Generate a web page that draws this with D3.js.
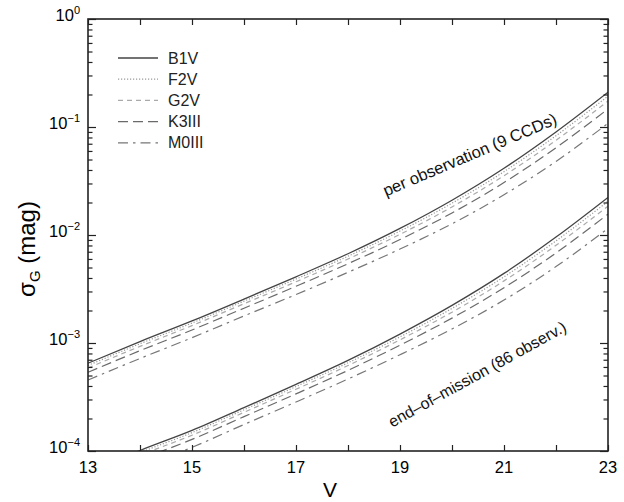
<!DOCTYPE html>
<html><head><meta charset="utf-8">
<script src="https://cdn.jsdelivr.net/npm/d3@7"></script>
<style>body{margin:0;background:#fff}svg{font-family:"Liberation Sans",Arial,Helvetica,sans-serif}</style>
</head><body><svg id="c" width="624" height="502"></svg>
<script>
// ---- data ----
const vMag = [13,14,15,16,17,18,19,20,21,22,23];
const seriesNames = ["B1V","F2V","G2V","K3III","M0III"];
// per observation (9 CCDs)
const b1vPer  = [6.5e-4,1.03e-3,1.6e-3,2.55e-3,4.1e-3,6.7e-3,0.0115,0.021,0.0415,0.090,0.21];
const f2vPer  = [6.2e-4,9.84e-4,1.53e-3,2.44e-3,3.91e-3,6.37e-3,0.01087,0.0197,0.0386,0.0831,0.193];
const g2vPer  = [5.88e-4,9.31e-4,1.45e-3,2.31e-3,3.69e-3,6.00e-3,0.01015,0.0182,0.0354,0.0754,0.174];
const k3iiiPer= [5.36e-4,8.49e-4,1.32e-3,2.10e-3,3.35e-3,5.42e-3,9.07e-3,0.0160,0.0306,0.0642,0.147];
const m0iiiPer= [4.54e-4,7.19e-4,1.12e-3,1.78e-3,2.81e-3,4.51e-3,7.41e-3,0.0127,0.0236,0.0480,0.108];
// end-of-mission (86 observ.)
const b1vEnd  = [6.3e-5,1.01e-4,1.55e-4,2.52e-4,4.14e-4,6.9e-4,1.21e-3,2.23e-3,4.41e-3,9.57e-3,0.0223];
const f2vEnd  = [6.0e-5,9.65e-5,1.48e-4,2.41e-4,3.95e-4,6.56e-4,1.14e-3,2.09e-3,4.10e-3,8.83e-3,0.0205];
const g2vEnd  = [5.7e-5,9.13e-5,1.40e-4,2.28e-4,3.73e-4,6.18e-4,1.07e-3,1.93e-3,3.76e-3,8.02e-3,0.0185];
const k3iiiEnd= [5.2e-5,8.32e-5,1.28e-4,2.08e-4,3.38e-4,5.58e-4,9.55e-4,1.70e-3,3.25e-3,6.82e-3,0.0156];
const m0iiiEnd= [4.4e-5,7.05e-5,1.08e-4,1.76e-4,2.84e-4,4.64e-4,7.79e-4,1.35e-3,2.50e-3,5.10e-3,0.0115];
const xTickLabels = [13,15,17,19,21,23];
const yTickExps = [0,-1,-2,-3,-4];

// ---- styles ----
const styles = {
  "B1V":  {stroke:"#444", dash:null, w:1.3},
  "F2V":  {stroke:"#999", dash:"1.2,1.8", w:1.2},
  "G2V":  {stroke:"#aaa", dash:"5,4", w:1.2},
  "K3III":{stroke:"#6a6a6a", dash:"10,5", w:1.2},
  "M0III":{stroke:"#777", dash:"10,5,2.5,5", w:1.2}
};
const perSets = [b1vPer,f2vPer,g2vPer,k3iiiPer,m0iiiPer];
const endSets = [b1vEnd,f2vEnd,g2vEnd,k3iiiEnd,m0iiiEnd];

const L=88, R=608, T=19, B=451;
const svg = d3.select("#c");
const x = d3.scaleLinear().domain([13,23]).range([L,R]);
const y = d3.scaleLog().domain([1e-4,1]).range([B,T]);

svg.append("clipPath").attr("id","pc").append("rect")
  .attr("x",L).attr("y",T).attr("width",R-L).attr("height",B-T);

const line = d3.line().x(d=>x(d[0])).y(d=>y(d[1])).curve(d3.curveMonotoneX);
const g = svg.append("g").attr("clip-path","url(#pc)");
[perSets,endSets].forEach(sets=>{
  sets.forEach((arr,i)=>{
    const s = styles[seriesNames[i]];
    g.append("path").datum(vMag.map((v,k)=>[v,arr[k]]))
      .attr("d",line).attr("fill","none")
      .attr("stroke",s.stroke).attr("stroke-width",s.w)
      .attr("stroke-dasharray",s.dash);
  });
});

// axes: ticks inward on all sides
const xAxisB = d3.axisBottom(x).tickValues(d3.range(13,24,1)).tickSize(-6).tickFormat("");
const xAxisT = d3.axisTop(x).tickValues(d3.range(13,24,1)).tickSize(-6).tickFormat("");
const minorY = [];
for (let e=-4;e<0;e++) for (let m=2;m<=9;m++) minorY.push(m*Math.pow(10,e));
const majorY = yTickExps.map(e=>Math.pow(10,e));
function yAx(gen, vals, size){ return gen(y).tickValues(vals).tickSize(size).tickFormat(""); }

function styleAxis(sel){ sel.select(".domain").remove(); sel.selectAll("line").attr("stroke","#222").attr("stroke-width",1.2); }
svg.append("g").attr("transform",`translate(0,${B})`).call(xAxisB).call(styleAxis);
svg.append("g").attr("transform",`translate(0,${T})`).call(xAxisT).call(styleAxis);
svg.append("g").attr("transform",`translate(${L},0)`).call(yAx(d3.axisLeft,majorY,-8)).call(styleAxis);
svg.append("g").attr("transform",`translate(${L},0)`).call(yAx(d3.axisLeft,minorY,-4.5)).call(styleAxis);
svg.append("g").attr("transform",`translate(${R},0)`).call(yAx(d3.axisRight,majorY,-8)).call(styleAxis);
svg.append("g").attr("transform",`translate(${R},0)`).call(yAx(d3.axisRight,minorY,-4.5)).call(styleAxis);

svg.append("rect").attr("x",L).attr("y",T).attr("width",R-L).attr("height",B-T)
  .attr("fill","none").attr("stroke","#222").attr("stroke-width",1.6);

// x tick labels
svg.append("g").selectAll("text").data(xTickLabels).join("text")
  .attr("x",d=>x(d)).attr("y",B+22).attr("text-anchor","middle")
  .attr("font-size",16.5).attr("fill","#000").text(d=>d);
// y tick labels
const yl = svg.append("g").selectAll("text").data(yTickExps).join("text")
  .attr("x",L-8).attr("y",d=>y(Math.pow(10,d))+2).attr("text-anchor","end")
  .attr("font-size",16.5).attr("fill","#000");
yl.append("tspan").text("10");
yl.append("tspan").attr("dy",-7).attr("font-size",11).text(d=>d===0?"0":"\u2212"+(-d));

// axis titles
svg.append("text").attr("x",330).attr("y",497).attr("text-anchor","middle")
  .attr("font-size",21).attr("fill","#000").text("V");
const yt = svg.append("text").attr("transform","translate(35,249) rotate(-90)")
  .attr("text-anchor","middle").attr("font-size",24).attr("fill","#000");
yt.append("tspan").text("\u03c3");
yt.append("tspan").attr("dy",5).attr("font-size",15).text("G");
yt.append("tspan").attr("dy",-5).text(" (mag)");

// legend
const lg = svg.append("g");
seriesNames.forEach((n,i)=>{
  const yy = 58 + i*21.2, s = styles[n];
  lg.append("line").attr("x1",118).attr("x2",158).attr("y1",yy).attr("y2",yy)
    .attr("stroke",s.stroke).attr("stroke-width",s.w).attr("stroke-dasharray",s.dash);
  lg.append("text").attr("x",168).attr("y",yy+5.5).attr("font-size",16).attr("fill","#222").text(n);
});

// annotations
svg.append("text").attr("transform","translate(472,160) rotate(-23)")
  .attr("text-anchor","middle").attr("font-size",16.5).attr("fill","#111")
  .text("per observation (9 CCDs)");
svg.append("text").attr("transform","translate(480,379) rotate(-29)")
  .attr("text-anchor","middle").attr("font-size",16).attr("fill","#111")
  .text("end\u2013of\u2013mission (86 observ.)");
</script></body></html>
